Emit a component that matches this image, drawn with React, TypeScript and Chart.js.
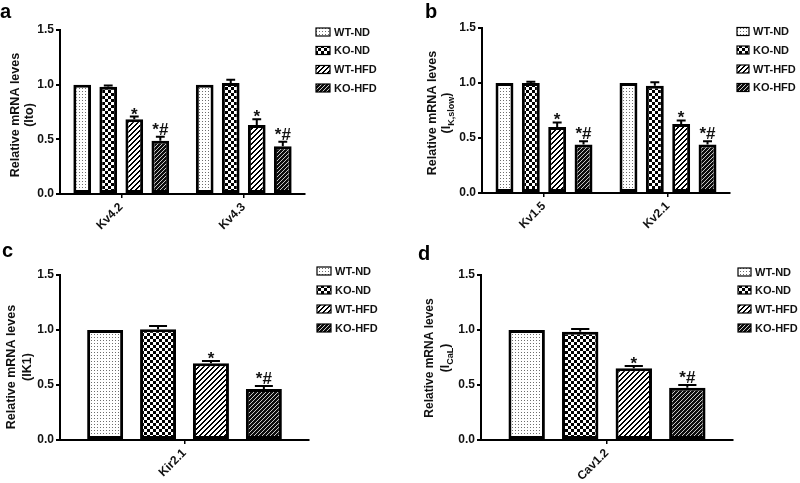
import React, { useEffect, useRef } from 'react';
import { Chart, registerables } from 'chart.js';

Chart.register(...registerables);

// ---------------- data ----------------
const groupLabels = ['WT-ND', 'KO-ND', 'WT-HFD', 'KO-HFD'];
const sigLabels = ['', '', '*', '*#'];
const yTickValues = [0, 0.5, 1.0, 1.5];

const aCategories = ['Kv4.2', 'Kv4.3'];
const aWTND = [1.0, 1.0];
const aKOND = [0.98, 1.015];
const aWTHFD = [0.683, 0.63];
const aKOHFD = [0.486, 0.437];
const aErrWTND = [0, 0];
const aErrKOND = [0.012, 0.03];
const aErrWTHFD = [0.025, 0.053];
const aErrKOHFD = [0.037, 0.04];

const bCategories = ['Kv1.5', 'Kv2.1'];
const bWTND = [1.0, 1.0];
const bKOND = [1.0, 0.976];
const bWTHFD = [0.6, 0.627];
const bKOHFD = [0.44, 0.44];
const bErrWTND = [0, 0];
const bErrKOND = [0.012, 0.03];
const bErrWTHFD = [0.042, 0.033];
const bErrKOHFD = [0.03, 0.03];

const cCategories = ['Kir2.1'];
const cWTND = [1.0];
const cKOND = [1.006];
const cWTHFD = [0.697];
const cKOHFD = [0.464];
const cErrWTND = [0];
const cErrKOND = [0.03];
const cErrWTHFD = [0.021];
const cErrKOHFD = [0.026];

const dCategories = ['Cav1.2'];
const dWTND = [1.0];
const dKOND = [0.985];
const dWTHFD = [0.652];
const dKOHFD = [0.476];
const dErrWTND = [0];
const dErrKOND = [0.024];
const dErrWTHFD = [0.021];
const dErrKOHFD = [0.024];

// ---------------- styling / layout ----------------
const FONT = '"Liberation Sans", Arial, Helvetica, sans-serif';
const INK = '#111';

function makePattern(kind: number): CanvasPattern | string {
  const c = document.createElement('canvas');
  const g = c.getContext('2d');
  if (!g) return '#888';
  if (kind === 0) {
    c.width = 3; c.height = 3;
    g.fillStyle = '#fff'; g.fillRect(0, 0, 3, 3);
    g.fillStyle = '#6e6e6e'; g.fillRect(1, 1, 1, 1);
  } else if (kind === 1) {
    c.width = 6; c.height = 6;
    g.fillStyle = '#fff'; g.fillRect(0, 0, 6, 6);
    g.fillStyle = '#000'; g.fillRect(0, 0, 3, 3); g.fillRect(3, 3, 3, 3);
  } else if (kind === 2) {
    c.width = 5; c.height = 5;
    g.fillStyle = '#fff'; g.fillRect(0, 0, 5, 5);
    g.fillStyle = '#000';
    for (let i = 0; i < 5; i++) {
      g.fillRect(i, 4 - i, 1, 1);
      g.fillRect(i, (5 - i) % 5, 1, 1);
    }
  } else {
    c.width = 4; c.height = 4;
    g.fillStyle = '#0d0d0d'; g.fillRect(0, 0, 4, 4);
    g.fillStyle = '#c8c8c8';
    g.fillRect(1, 0, 1, 1); g.fillRect(0, 1, 1, 1);
    g.fillRect(3, 2, 1, 1); g.fillRect(2, 3, 1, 1);
  }
  const p = g.createPattern(c, 'repeat');
  return p || '#888';
}

type Panel = {
  letter: string;
  left: number; top: number; width: number; height: number;
  categories: string[];
  values: number[][];
  errors: number[][];
  titleLine1: string;
  titlePre: string; titleSub: string; titlePost: string;
  area: { left: number; right: number; top: number; bottom: number };
  letterPos: [number, number];
  titleX: [number, number]; titleCY: number; titleSize: number;
  legendSwX: number; legendSwW: number; legendTextX: number; legendRows: number[];
};

const panels: Panel[] = [
  {
    letter: 'a', left: 0, top: 0, width: 400, height: 240,
    categories: aCategories,
    values: [aWTND, aKOND, aWTHFD, aKOHFD],
    errors: [aErrWTND, aErrKOND, aErrWTHFD, aErrKOHFD],
    titleLine1: 'Relative mRNA leves', titlePre: '(Ito)', titleSub: '', titlePost: '',
    area: { left: 60, right: 305, top: 30, bottom: 194 },
    letterPos: [0, 18], titleX: [16, 30], titleCY: 115, titleSize: 12.5,
    legendSwX: 316, legendSwW: 14, legendTextX: 334, legendRows: [32, 50.5, 69.5, 88],
  },
  {
    letter: 'b', left: 400, top: 0, width: 400, height: 240,
    categories: bCategories,
    values: [bWTND, bKOND, bWTHFD, bKOHFD],
    errors: [bErrWTND, bErrKOND, bErrWTHFD, bErrKOHFD],
    titleLine1: 'Relative mRNA leves', titlePre: '(I', titleSub: 'K,slow', titlePost: ')',
    area: { left: 82, right: 330, top: 28, bottom: 193 },
    letterPos: [25, 18], titleX: [33, 47], titleCY: 113, titleSize: 12.5,
    legendSwX: 337, legendSwW: 12, legendTextX: 353, legendRows: [31.5, 50, 69, 87.5],
  },
  {
    letter: 'c', left: 0, top: 240, width: 400, height: 243,
    categories: cCategories,
    values: [cWTND, cKOND, cWTHFD, cKOHFD],
    errors: [cErrWTND, cErrKOND, cErrWTHFD, cErrKOHFD],
    titleLine1: 'Relative mRNA leves', titlePre: '(IK1)', titleSub: '', titlePost: '',
    area: { left: 60, right: 309, top: 35, bottom: 200 },
    letterPos: [2, 17], titleX: [12, 28], titleCY: 127, titleSize: 12.5,
    legendSwX: 317, legendSwW: 14, legendTextX: 335, legendRows: [31, 50, 69, 88],
  },
  {
    letter: 'd', left: 400, top: 240, width: 400, height: 243,
    categories: dCategories,
    values: [dWTND, dKOND, dWTHFD, dKOHFD],
    errors: [dErrWTND, dErrKOND, dErrWTHFD, dErrKOHFD],
    titleLine1: 'Relative mRNA leves', titlePre: '(I', titleSub: 'CaL', titlePost: ')',
    area: { left: 81, right: 333, top: 35, bottom: 200 },
    letterPos: [18, 20], titleX: [30, 46], titleCY: 118, titleSize: 12,
    legendSwX: 338, legendSwW: 13, legendTextX: 355, legendRows: [32, 50, 69, 88],
  },
];

function PanelChart({ p }: { p: Panel }) {
  const ref = useRef<HTMLCanvasElement | null>(null);

  useEffect(() => {
    const canvas = ref.current;
    if (!canvas) return;
    const patterns = [0, 1, 2, 3].map((k) => makePattern(k));

    const decor = {
      id: 'decor' + p.letter,
      afterDatasetsDraw(chart: any) {
        const ctx: CanvasRenderingContext2D = chart.ctx;
        const yS = chart.scales.y;
        chart.data.datasets.forEach((ds: any, i: number) => {
          const meta = chart.getDatasetMeta(i);
          meta.data.forEach((bar: any, j: number) => {
            const v = ds.data[j] as number;
            const e = p.errors[i][j];
            const topPx = yS.getPixelForValue(v + e);
            const barTop = yS.getPixelForValue(v);
            const x = bar.x;
            const w = bar.width;
            ctx.save();
            ctx.strokeStyle = '#000';
            ctx.lineWidth = 2;
            if (e > 0) {
              ctx.beginPath();
              ctx.moveTo(x, barTop);
              ctx.lineTo(x, topPx);
              ctx.moveTo(x - w * 0.25, topPx);
              ctx.lineTo(x + w * 0.25, topPx);
              ctx.stroke();
            }
            const s = sigLabels[i];
            if (s) {
              ctx.fillStyle = INK;
              ctx.font = `bold 17px ${FONT}`;
              ctx.textAlign = 'center';
              ctx.textBaseline = 'alphabetic';
              ctx.fillText(s, x, s === '*' ? topPx + 3 : topPx - 2);
            }
            ctx.restore();
          });
        });
      },
      afterDraw(chart: any) {
        const ctx: CanvasRenderingContext2D = chart.ctx;
        ctx.save();
        // panel letter
        ctx.fillStyle = '#000';
        ctx.font = `bold 20px ${FONT}`;
        ctx.textAlign = 'left';
        ctx.textBaseline = 'alphabetic';
        ctx.fillText(p.letter, p.letterPos[0], p.letterPos[1]);

        // y-axis title
        const fs = p.titleSize;
        ctx.fillStyle = INK;
        ctx.save();
        ctx.translate(p.titleX[0], p.titleCY);
        ctx.rotate(-Math.PI / 2);
        ctx.font = `bold ${fs}px ${FONT}`;
        ctx.textAlign = 'center';
        ctx.textBaseline = 'middle';
        ctx.fillText(p.titleLine1, 0, 0);
        ctx.restore();

        ctx.save();
        ctx.translate(p.titleX[1], p.titleCY);
        ctx.rotate(-Math.PI / 2);
        ctx.textBaseline = 'middle';
        ctx.textAlign = 'left';
        const mainFont = `bold ${fs}px ${FONT}`;
        const subFont = `bold ${Math.round(fs * 0.72)}px ${FONT}`;
        const parts = [
          { t: p.titlePre, f: mainFont, dy: 0 },
          { t: p.titleSub, f: subFont, dy: fs * 0.35 },
          { t: p.titlePost, f: mainFont, dy: 0 },
        ];
        let total = 0;
        parts.forEach((pt) => { ctx.font = pt.f; total += ctx.measureText(pt.t).width; });
        let cx = -total / 2;
        parts.forEach((pt) => {
          ctx.font = pt.f;
          ctx.fillText(pt.t, cx, pt.dy);
          cx += ctx.measureText(pt.t).width;
        });
        ctx.restore();

        // legend
        groupLabels.forEach((lab, i) => {
          const cy = p.legendRows[i];
          const sw = p.legendSwW, sh = 8;
          ctx.fillStyle = patterns[i] as any;
          ctx.fillRect(p.legendSwX, cy - sh / 2, sw, sh);
          ctx.strokeStyle = '#000';
          ctx.lineWidth = 1.2;
          ctx.strokeRect(p.legendSwX, cy - sh / 2, sw, sh);
          ctx.fillStyle = INK;
          ctx.font = `bold 11px ${FONT}`;
          ctx.textAlign = 'left';
          ctx.textBaseline = 'middle';
          ctx.fillText(lab, p.legendTextX, cy + 0.5);
        });
        ctx.restore();
      },
    };

    const chart = new Chart(canvas, {
      type: 'bar',
      data: {
        labels: p.categories,
        datasets: groupLabels.map((lab, i) => ({
          label: lab,
          data: p.values[i],
          backgroundColor: patterns[i] as any,
          borderColor: '#000',
          borderWidth: 3,
          borderSkipped: false,
          categoryPercentage: 0.85,
          barPercentage: 0.68,
        })),
      },
      options: {
        responsive: false,
        animation: false,
        events: [],
        layout: {
          padding: {
            left: 0,
            top: p.area.top,
            right: p.width - p.area.right,
            bottom: 0,
          },
        },
        plugins: {
          legend: { display: false },
          tooltip: { enabled: false },
          title: { display: false },
        },
        scales: {
          x: {
            type: 'category',
            offset: true,
            grid: {
              display: true,
              offset: false,
              drawOnChartArea: false,
              drawTicks: true,
              tickLength: 4,
              color: '#000',
              lineWidth: 1.5,
            },
            border: { display: true, color: '#000', width: 2 },
            ticks: {
              autoSkip: false,
              minRotation: 45,
              maxRotation: 45,
              padding: 2,
              color: INK,
              font: { family: FONT, size: 12, weight: 'bold' },
            },
            afterFit: (s: any) => {
              s.height = p.height - p.area.bottom;
              s.paddingLeft = 0;
              s.paddingRight = 0;
            },
          },
          y: {
            type: 'linear',
            min: 0,
            max: 1.5,
            grid: {
              display: true,
              drawOnChartArea: false,
              drawTicks: true,
              tickLength: 4,
              color: '#000',
              lineWidth: 2,
            },
            border: { display: true, color: '#000', width: 2 },
            afterBuildTicks: (s: any) => {
              s.ticks = yTickValues.map((v) => ({ value: v }));
            },
            ticks: {
              padding: 2,
              color: INK,
              font: { family: FONT, size: 12, weight: 'bold' },
              callback: (v: any) => Number(v).toFixed(1),
            },
            afterFit: (s: any) => {
              s.width = p.area.left;
              s.paddingTop = 0;
              s.paddingBottom = 0;
            },
          },
        },
      },
      plugins: [decor],
    } as any);

    return () => chart.destroy();
  }, [p]);

  return (
    <canvas
      ref={ref}
      width={p.width}
      height={p.height}
      style={{
        position: 'absolute',
        left: p.left,
        top: p.top,
        width: p.width,
        height: p.height,
        display: 'block',
      }}
    />
  );
}

export default function App() {
  return (
    <div
      style={{
        position: 'absolute',
        left: 0,
        top: 0,
        width: 800,
        height: 483,
        background: '#fff',
        overflow: 'hidden',
      }}
    >
      {panels.map((p) => (
        <PanelChart key={p.letter} p={p} />
      ))}
    </div>
  );
}
